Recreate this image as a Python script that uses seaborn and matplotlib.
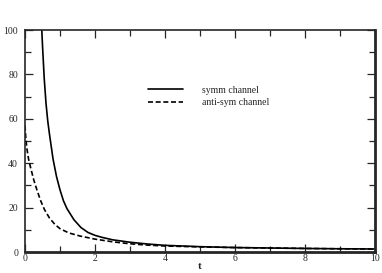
import matplotlib
matplotlib.use("Agg")
import matplotlib.pyplot as plt
import seaborn as sns
import pandas as pd
from matplotlib.ticker import MultipleLocator

# Data
symm_t = [0.48, 0.5, 0.55, 0.6, 0.65, 0.7, 0.8, 0.9, 1.0, 1.1, 1.2, 1.4, 1.6, 1.8,
          2.0, 2.2, 2.5, 3.0, 3.5, 4.0, 5, 6, 7, 8, 9, 10]
symm_v = [100, 93, 78, 67, 59, 53, 42, 34, 28, 23, 19.5, 14.5, 11, 8.8,
          7.5, 6.6, 5.5, 4.4, 3.6, 3.0, 2.4, 2.0, 1.8, 1.6, 1.45, 1.35]
anti_t = [0, 0.02, 0.05, 0.1, 0.16, 0.25, 0.35, 0.45, 0.56, 0.7, 0.85, 1.0, 1.25,
          1.57, 2.0, 2.5, 3.0, 3.5, 4.0, 5, 6, 7, 8, 9, 10]
anti_v = [57, 52, 47, 42, 38, 32.5, 27.5, 23, 19, 15.3, 12.5, 10.5, 8.6,
          7.2, 5.8, 4.6, 3.7, 3.1, 2.7, 2.3, 2.0, 1.8, 1.6, 1.45, 1.35]
labels = ["symm channel", "anti-sym channel"]

df = pd.concat([
    pd.DataFrame({"t": symm_t, "v": symm_v, "channel": labels[0]}),
    pd.DataFrame({"t": anti_t, "v": anti_v, "channel": labels[1]}),
])

sns.set_style("ticks")
plt.rcParams["font.family"] = ["Liberation Serif", "DejaVu Serif"]

fig = plt.figure(figsize=(3.82, 2.73), dpi=100)
ax = fig.add_axes([25 / 382, 1 - 252 / 273, 350 / 382, 222 / 273])

sns.lineplot(data=df, x="t", y="v", style="channel", style_order=labels,
             dashes={labels[0]: "", labels[1]: (3, 1.6)},
             color="black", linewidth=1.2, sort=False, estimator=None, ax=ax)

ax.set_xlim(0, 10)
ax.set_ylim(0, 100)
ax.xaxis.set_major_locator(MultipleLocator(2))
ax.xaxis.set_minor_locator(MultipleLocator(1))
ax.yaxis.set_major_locator(MultipleLocator(20))
ax.yaxis.set_minor_locator(MultipleLocator(10))
ax.tick_params(which="both", direction="in", top=True, right=True,
               labelsize=7, width=0.9)
ax.tick_params(axis="x", which="both", pad=1.5)
ax.tick_params(axis="y", which="both", pad=5)
ax.tick_params(which="major", length=6)
ax.tick_params(which="minor", length=4)
for side in ["left", "top"]:
    ax.spines[side].set_linewidth(1.2)
for side in ["bottom", "right"]:
    ax.spines[side].set_linewidth(2.0)

ax.set_xlabel("t", fontsize=8, labelpad=-1, fontweight="bold")
ax.set_ylabel("")

ax.legend(loc="upper left", bbox_to_anchor=(0.326, 0.788), frameon=False,
          fontsize=7, handlelength=3.6, handletextpad=2.0, labelspacing=0.34)

fig.savefig("out.png", dpi=100)
